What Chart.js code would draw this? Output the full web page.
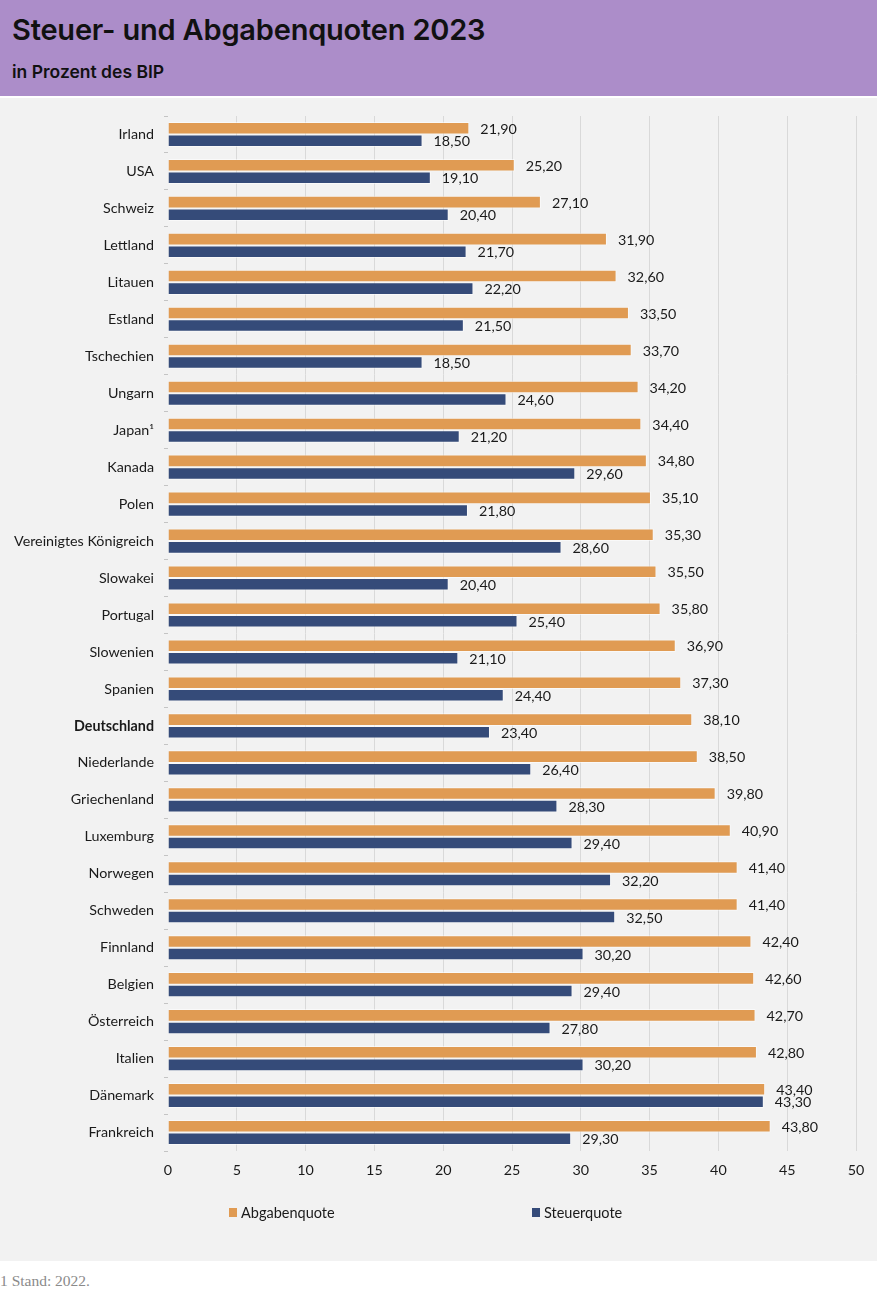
<!DOCTYPE html>
<html lang="de">
<head>
<meta charset="utf-8">
<script src="https://cdn.jsdelivr.net/npm/chart.js@4.4.1/dist/chart.umd.min.js"></script>
<style>
  html, body { margin: 0; padding: 0; }
  body { width: 877px; height: 1294px; position: relative; background: #ffffff; overflow: hidden; }
  #header { position: absolute; left: 0; top: 0; width: 877px; height: 96px; background: #ac8dc9; }
  #title { position: absolute; left: 12px; top: 13px; font-family: Inter, "Noto Sans", sans-serif; font-weight: 600; font-size: 29px; letter-spacing: -0.2px; color: #111; white-space: nowrap; line-height: 34px; }
  #subtitle { position: absolute; left: 12px; top: 61px; font-family: Inter, "Noto Sans", sans-serif; font-weight: 600; font-size: 17.5px; letter-spacing: 0px; color: #111; white-space: nowrap; line-height: 22px; }
  #panel { position: absolute; left: 0; top: 98px; width: 877px; height: 1163px; background: #f2f2f2; }
  #chart { position: absolute; left: 0; top: 97px; }
  #legend { position: absolute; left: 229px; top: 1202px; height: 20px; font-family: Lato, sans-serif; font-size: 14.5px; color: #1a1a1a; white-space: nowrap; }
  .lg { position: absolute; top: 0; display: flex; align-items: center; height: 20px; }
  .lg span.box { display: inline-block; width: 8px; height: 9px; margin-right: 4px; }
  #foot { position: absolute; left: 0; top: 1272px; font-family: "Liberation Serif", "DejaVu Serif", serif; font-size: 15.5px; color: #8a8a8a; white-space: nowrap; }
</style>
</head>
<body>
<div id="header">
  <div id="title">Steuer- und Abgabenquoten 2023</div>
  <div id="subtitle">in Prozent des BIP</div>
</div>
<div id="panel"></div>
<canvas id="chart" width="877" height="1163"></canvas>
<div id="legend"></div>
<div id="foot">1 Stand: 2022.</div>
<script>
const categories = [
  "Irland", "USA", "Schweiz", "Lettland", "Litauen", "Estland", "Tschechien",
  "Ungarn", "Japan\u00b9", "Kanada", "Polen", "Vereinigtes K\u00f6nigreich", "Slowakei",
  "Portugal", "Slowenien", "Spanien", "Deutschland", "Niederlande", "Griechenland",
  "Luxemburg", "Norwegen", "Schweden", "Finnland", "Belgien", "\u00d6sterreich",
  "Italien", "D\u00e4nemark", "Frankreich"
];
const abgabenquote = [
  21.9, 25.2, 27.1, 31.9, 32.6, 33.5, 33.7,
  34.2, 34.4, 34.8, 35.1, 35.3, 35.5,
  35.8, 36.9, 37.3, 38.1, 38.5, 39.8,
  40.9, 41.4, 41.4, 42.4, 42.6, 42.7,
  42.8, 43.4, 43.8
];
const steuerquote = [
  18.5, 19.1, 20.4, 21.7, 22.2, 21.5, 18.5,
  24.6, 21.2, 29.6, 21.8, 28.6, 20.4,
  25.4, 21.1, 24.4, 23.4, 26.4, 28.3,
  29.4, 32.2, 32.5, 30.2, 29.4, 27.8,
  30.2, 43.3, 29.3
];
const seriesNames = ["Abgabenquote", "Steuerquote"];
const xTickMin = 0, xTickMax = 50, xTickStep = 5;
const highlighted = "Deutschland";

const COLORS = ["#e09b53", "#354b79"];
const FONT = "Lato, 'Open Sans', sans-serif";

const valueLabels = {
  id: "valueLabels",
  afterDatasetsDraw(chart) {
    const ctx = chart.ctx;
    ctx.save();
    ctx.font = "14.3px " + FONT;
    ctx.fillStyle = "#1a1a1a";
    ctx.textAlign = "left";
    ctx.textBaseline = "middle";
    chart.data.datasets.forEach((ds, di) => {
      const meta = chart.getDatasetMeta(di);
      meta.data.forEach((el, i) => {
        const v = ds.data[i];
        ctx.fillText(v.toFixed(2).replace(".", ","), el.x + 11, el.y + 1);
      });
    });
    ctx.restore();
  }
};

const chart = new Chart(document.getElementById("chart"), {
  type: "bar",
  data: {
    labels: categories,
    datasets: [
      { label: seriesNames[0], data: abgabenquote, backgroundColor: COLORS[0], borderColor: "rgba(255,255,255,0.55)", borderWidth: 1, categoryPercentage: 0.68, barPercentage: 1.0 },
      { label: seriesNames[1], data: steuerquote, backgroundColor: COLORS[1], borderColor: "rgba(255,255,255,0.55)", borderWidth: 1, categoryPercentage: 0.68, barPercentage: 1.0 }
    ]
  },
  options: {
    indexAxis: "y",
    responsive: false,
    animation: false,
    devicePixelRatio: 1,
    layout: { padding: { top: 19, left: 0, right: 21, bottom: 79 } },
    plugins: {
      legend: { display: false },
      tooltip: { enabled: false }
    },
    scales: {
      x: {
        min: xTickMin, max: xTickMax,
        ticks: { stepSize: xTickStep, padding: 11, color: "#1a1a1a", font: { family: FONT, size: 14.3 } },
        grid: {
          color: (c) => (c.tick && c.tick.value === 0) ? "rgba(0,0,0,0)" : "#d9d9d9",
          lineWidth: 1, drawTicks: false
        },
        border: { display: false },
        afterFit(scale) { scale.height = 30; }
      },
      y: {
        ticks: {
          padding: 10, color: "#1a1a1a", autoSkip: false,
          font: (c) => ({ family: FONT, size: 14.3, weight: (c.tick && c.tick.label === highlighted) ? "bold" : "normal" })
        },
        grid: { drawOnChartArea: false, drawTicks: true, tickLength: 4, color: "#c4c4c4", offset: true },
        border: { display: false },
        afterFit(scale) { scale.width = 168; }
      }
    }
  },
  plugins: [valueLabels]
});

// Legend built from the chart's datasets
const legendEl = document.getElementById("legend");
chart.data.datasets.forEach((ds, i) => {
  const item = document.createElement("div");
  item.className = "lg";
  item.style.left = (i * 303) + "px";
  const box = document.createElement("span");
  box.className = "box";
  box.style.background = ds.backgroundColor;
  const txt = document.createElement("span");
  txt.textContent = ds.label;
  item.appendChild(box);
  item.appendChild(txt);
  legendEl.appendChild(item);
});
</script>
</body>
</html>
